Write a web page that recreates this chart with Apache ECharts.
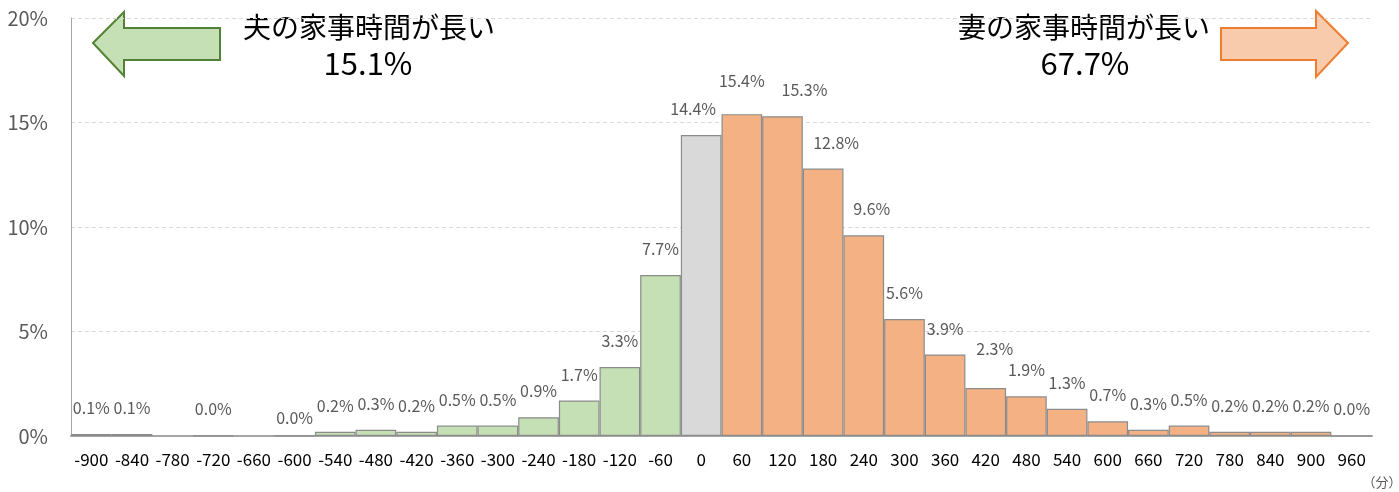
<!DOCTYPE html>
<html>
<head>
<meta charset="utf-8">
<script src="https://cdn.jsdelivr.net/npm/echarts@6/dist/echarts.min.js"></script>
<style>
  html, body { margin: 0; padding: 0; background: #fff; }
  #chart { width: 1399px; height: 492px; }
</style>
</head>
<body>
<div id="chart"></div>
<script>
  // 差分（分）: 妻 - 夫
  var categories = ['-900','-840','-780','-720','-660','-600','-540','-480','-420','-360','-300','-240','-180','-120','-60',
    '0','60','120','180','240','300','360','420','480','540','600','660','720','780','840','900','960'];
  // 割合(%)
  var shares = [0.1, 0.1, null, 0.02, null, 0.02, 0.2, 0.3, 0.2, 0.5, 0.5, 0.9, 1.7, 3.3, 7.7,
    14.4, 15.4, 15.3, 12.8, 9.6, 5.6, 3.9, 2.3, 1.9, 1.3, 0.7, 0.3, 0.5, 0.2, 0.2, 0.2, 0.0];
  var yTicks = [0, 5, 10, 15, 20];
  var husbandShare = '15.1%';
  var wifeShare = '67.7%';

  var FONT = '"Noto Sans CJK JP", "Noto Sans", sans-serif';

  // ラベルが重ならないようにずらす（Excelの配置に合わせる）
  var labelShift = {
    '-600': [0, 9],
    '0': [-8, 0],
    '60': [0, -7],
    '120': [22, 0],
    '180': [13, 0],
    '240': [8, 0],
    '420': [9, -13]
  };

  function barColor(idx) {
    var v = Number(categories[idx]);
    if (v < 0) return '#c5e0b4';
    if (v === 0) return '#d9d9d9';
    return '#f4b183';
  }

  var barData = shares.map(function (v, i) {
    var item = { value: v };
    if (labelShift[categories[i]]) item.label = { offset: labelShift[categories[i]] };
    return item;
  });

  var myChart = echarts.init(document.getElementById('chart'));
  myChart.setOption({
    animation: false,
    grid: { left: 71, right: 27, top: 18, bottom: 56 },
    xAxis: {
      type: 'category',
      data: categories,
      axisLine: { lineStyle: { color: '#a6a6a6', width: 2 } },
      axisTick: { show: false },
      axisLabel: { color: '#000', fontSize: 17, fontFamily: FONT, margin: 15, interval: 0 }
    },
    yAxis: {
      type: 'value',
      min: 0,
      max: yTicks[yTicks.length - 1],
      interval: 5,
      axisLine: { show: true, lineStyle: { color: '#a6a6a6', width: 1 } },
      axisTick: { show: false },
      axisLabel: { color: '#595959', fontSize: 20, fontFamily: FONT, margin: 23, formatter: '{value}%' },
      splitLine: { lineStyle: { color: '#d9d9d9', type: [4, 3] } }
    },
    series: [{
      type: 'bar',
      data: barData,
      barCategoryGap: 0,
      itemStyle: {
        color: function (p) { return barColor(p.dataIndex); },
        borderColor: '#8c8c8c',
        borderWidth: 1.2
      },
      label: {
        show: true,
        position: 'top',
        distance: 18,
        color: '#595959',
        fontSize: 16,
        fontFamily: FONT,
        formatter: function (p) { return p.value == null ? '' : p.value.toFixed(1) + '%'; }
      }
    }],
    graphic: [
      {
        type: 'polygon',
        shape: { points: [[93, 43], [124, 12], [124, 28], [220, 28], [220, 60], [124, 60], [124, 76]] },
        style: { fill: '#c5e0b4', stroke: '#548235', lineWidth: 2 }
      },
      {
        type: 'polygon',
        shape: { points: [[1348, 43], [1316, 11], [1316, 28], [1221, 28], [1221, 60], [1316, 60], [1316, 77]] },
        style: { fill: '#f8cbad', stroke: '#ed7d31', lineWidth: 2 }
      },
      {
        type: 'text', x: 369, y: 27,
        style: { text: '夫の家事時間が長い', fill: '#000', font: '28px ' + FONT, textAlign: 'center', textVerticalAlign: 'middle' }
      },
      {
        type: 'text', x: 368, y: 63,
        style: { text: husbandShare, fill: '#000', font: '31px ' + FONT, textAlign: 'center', textVerticalAlign: 'middle' }
      },
      {
        type: 'text', x: 1084, y: 27,
        style: { text: '妻の家事時間が長い', fill: '#000', font: '28px ' + FONT, textAlign: 'center', textVerticalAlign: 'middle' }
      },
      {
        type: 'text', x: 1085, y: 63,
        style: { text: wifeShare, fill: '#000', font: '31px ' + FONT, textAlign: 'center', textVerticalAlign: 'middle' }
      },
      {
        type: 'text', x: 1382, y: 482,
        style: { text: '（分）', fill: '#595959', font: '13px ' + FONT, textAlign: 'center', textVerticalAlign: 'middle' }
      }
    ]
  });
</script>
</body>
</html>
